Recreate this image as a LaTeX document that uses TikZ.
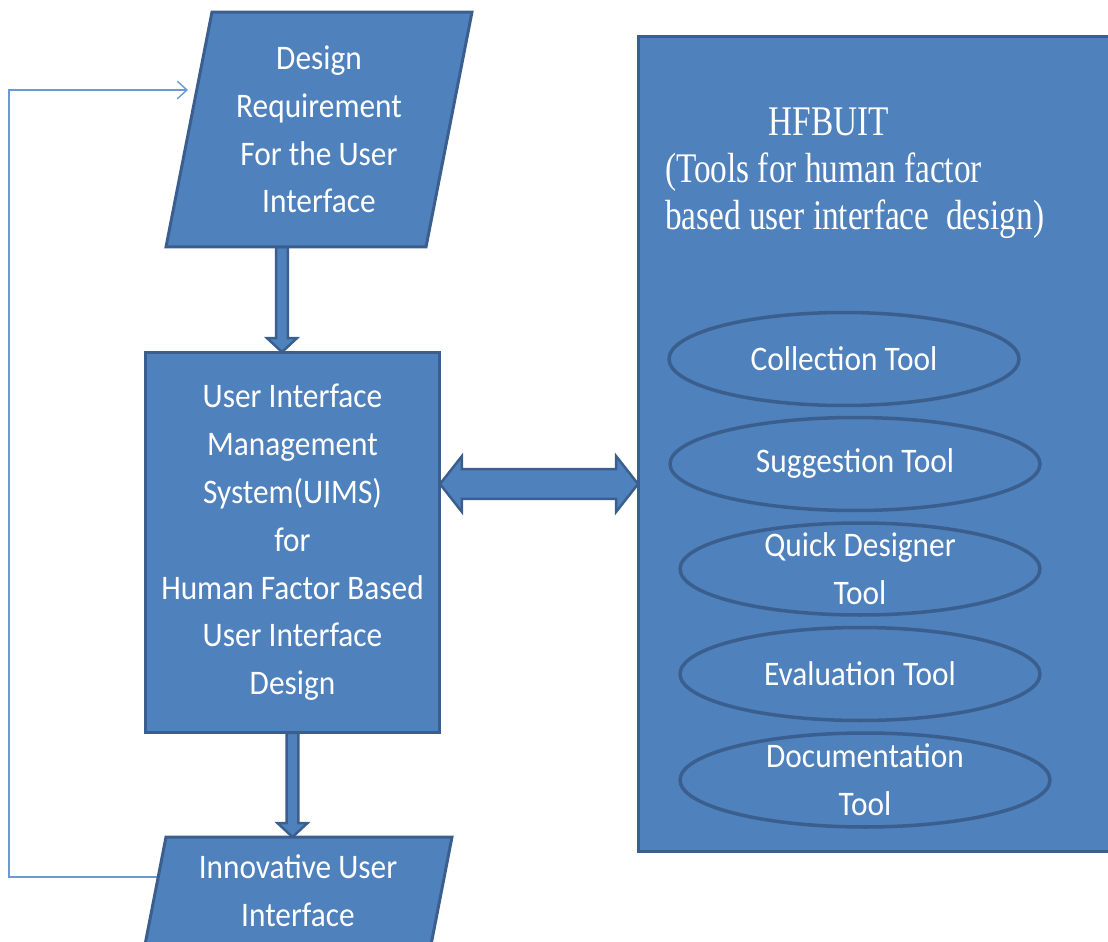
\documentclass[tikz,border=0pt]{standalone}
\usepackage{fontspec}
\setmainfont{Carlito}[FakeStretch=0.91]
\newfontfamily\hfserif{Liberation Serif}[FakeStretch=0.79]
\usetikzlibrary{calc,shapes.geometric,arrows.meta}
\pgfdeclarelayer{background}
\pgfsetlayers{background,main}
\definecolor{boxfill}{HTML}{4F81BD}
\definecolor{boxline}{HTML}{3A5F8E}
\definecolor{fbline}{HTML}{6A9AD4}
\tikzset{
 sanstext/.style={text=white, font=\fontsize{19.6}{27.2}\selectfont, align=center, inner sep=0pt, outer sep=0pt},
 seriftext/.style={text=white, font=\hfserif\fontsize{24}{26}\selectfont, inner sep=0pt, outer sep=0pt},
 blockfill/.style={fill=boxfill, draw=boxline, line width=1.7pt, line join=miter},
 toolellipse/.style={ellipse, blockfill, line width=2pt, inner sep=0pt, outer sep=0pt},
 mainbox/.style={rectangle, blockfill, outer sep=0pt, inner sep=0pt},
 feedback/.style={draw=fbline, line width=0.8pt, -{Straight Barb[length=5.5pt,width=10pt]}},
}
\newcommand\vblockarrow[2]{%
 \path[blockfill, line width=1.4pt] let \p1=(#1), \p2=(#2) in
  (\x1-3.3pt,\y1) -- (\x1+3.3pt,\y1) -- (\x1+3.3pt,\y2+7.9pt) -- (\x1+8.5pt,\y2+7.9pt)
  -- (\x1,\y2) -- (\x1-8.5pt,\y2+7.9pt) -- (\x1-3.3pt,\y2+7.9pt) -- cycle;}
\newcommand\hblockarrow[2]{%
 \path[blockfill, line width=1.4pt] let \p1=(#1), \p2=(#2) in
  (\x1,\y1) -- (\x1+12.5pt,\y1+15.9pt) -- (\x1+12.5pt,\y1+8.5pt) -- (\x2-12.5pt,\y1+8.5pt)
  -- (\x2-12.5pt,\y1+15.9pt) -- (\x2,\y1) -- (\x2-12.5pt,\y1-15.9pt) -- (\x2-12.5pt,\y1-8.5pt)
  -- (\x1+12.5pt,\y1-8.5pt) -- (\x1+12.5pt,\y1-15.9pt) -- cycle;}
\begin{document}
\begin{tikzpicture}[x=0.02cm,y=-0.02cm]
\useasboundingbox (0,0) rectangle (1108,942);
\clip (0,0) rectangle (1108,942);

% left column
\node[sanstext, minimum width=4.28cm, minimum height=4.7cm] (design) at (319,129.5)
  {Design\\Requirement\\For the User\\Interface};
\node[mainbox, sanstext, fill=boxfill, draw=boxline, line width=1.7pt, minimum width=5.9cm, minimum height=7.62cm] (uims) at (292.5,542.5)
  {User Interface\\Management\\System(UIMS)\\for\\Human Factor Based\\User Interface\\Design};
\node[sanstext, minimum width=4.4cm, minimum height=2.26cm] (innovtext) at (298,893.5) {};
\node[sanstext] (innov) at (298,891) {Innovative User\\Interface};

% right panel
\node[mainbox, minimum width=9.84cm, minimum height=16.32cm] (hfbuit) at (884,444) {};
\node[seriftext, anchor=base] (hftitle) at (829,136) {HFBUIT};
\node[seriftext, anchor=base west] (hfsub1) at (665,183) {(Tools for human factor};
\node[seriftext, anchor=base west] (hfsub2) at (665,230) {based user interface~ design)};

\node[toolellipse, minimum width=7.0cm, minimum height=1.86cm] (coll) at (844,359) {};
\node[sanstext] (collt) at (coll.center) {Collection Tool};
\node[toolellipse, minimum width=7.4cm, minimum height=1.86cm] (sugg) at (855,464) {};
\node[sanstext] (suggt) at (sugg.center) {Suggestion Tool};
\node[toolellipse, minimum width=7.2cm, minimum height=1.84cm] (quick) at (860,569) {};
\node[sanstext] (quickt) at (quick.center) {Quick Designer\\Tool};
\node[toolellipse, minimum width=7.2cm, minimum height=1.86cm] (eval) at (860,674) {};
\node[sanstext] (evalt) at (eval.center) {Evaluation Tool};
\node[toolellipse, minimum width=7.4cm, minimum height=1.88cm] (doc) at (865,780) {};
\node[sanstext] (doct) at (doc.center) {Documentation\\Tool};

% connector coordinates
\coordinate (a1tip) at ($(uims.north)+(-10.5,0)$);
\coordinate (a1start) at (design.south -| a1tip);
\coordinate (a2start) at (uims.south);
\coordinate (a2tip) at (innovtext.north -| uims.south);
\coordinate (dl) at ($(uims.east)+(0,-58.5)$);
\coordinate (dr) at (dl -| hfbuit.west);
\coordinate (fbstart) at ($(innovtext.north)+(-140,40)$);
\coordinate (fbend) at ($(design.north)+(-131,78)$);

\begin{pgfonlayer}{background}
  \vblockarrow{a1start}{a1tip}
  \vblockarrow{a2start}{a2tip}
  \hblockarrow{dl}{dr}
  \draw[feedback] (fbstart) -- ++(-149,0) |- (fbend);
  \path[blockfill] ($(design.north)+(-107,0)$) -- ($(design.north)+(153,0)$)
     -- ($(design.south)+(107,0)$) -- ($(design.south)+(-153,0)$) -- cycle;
  \path[blockfill] ($(innovtext.north)+(-132,0)$) -- ($(innovtext.north)+(154,0)$)
     -- ($(innovtext.south)+(132,0)$) -- ($(innovtext.south)+(-154,0)$) -- cycle;
\end{pgfonlayer}
\end{tikzpicture}
\end{document}
